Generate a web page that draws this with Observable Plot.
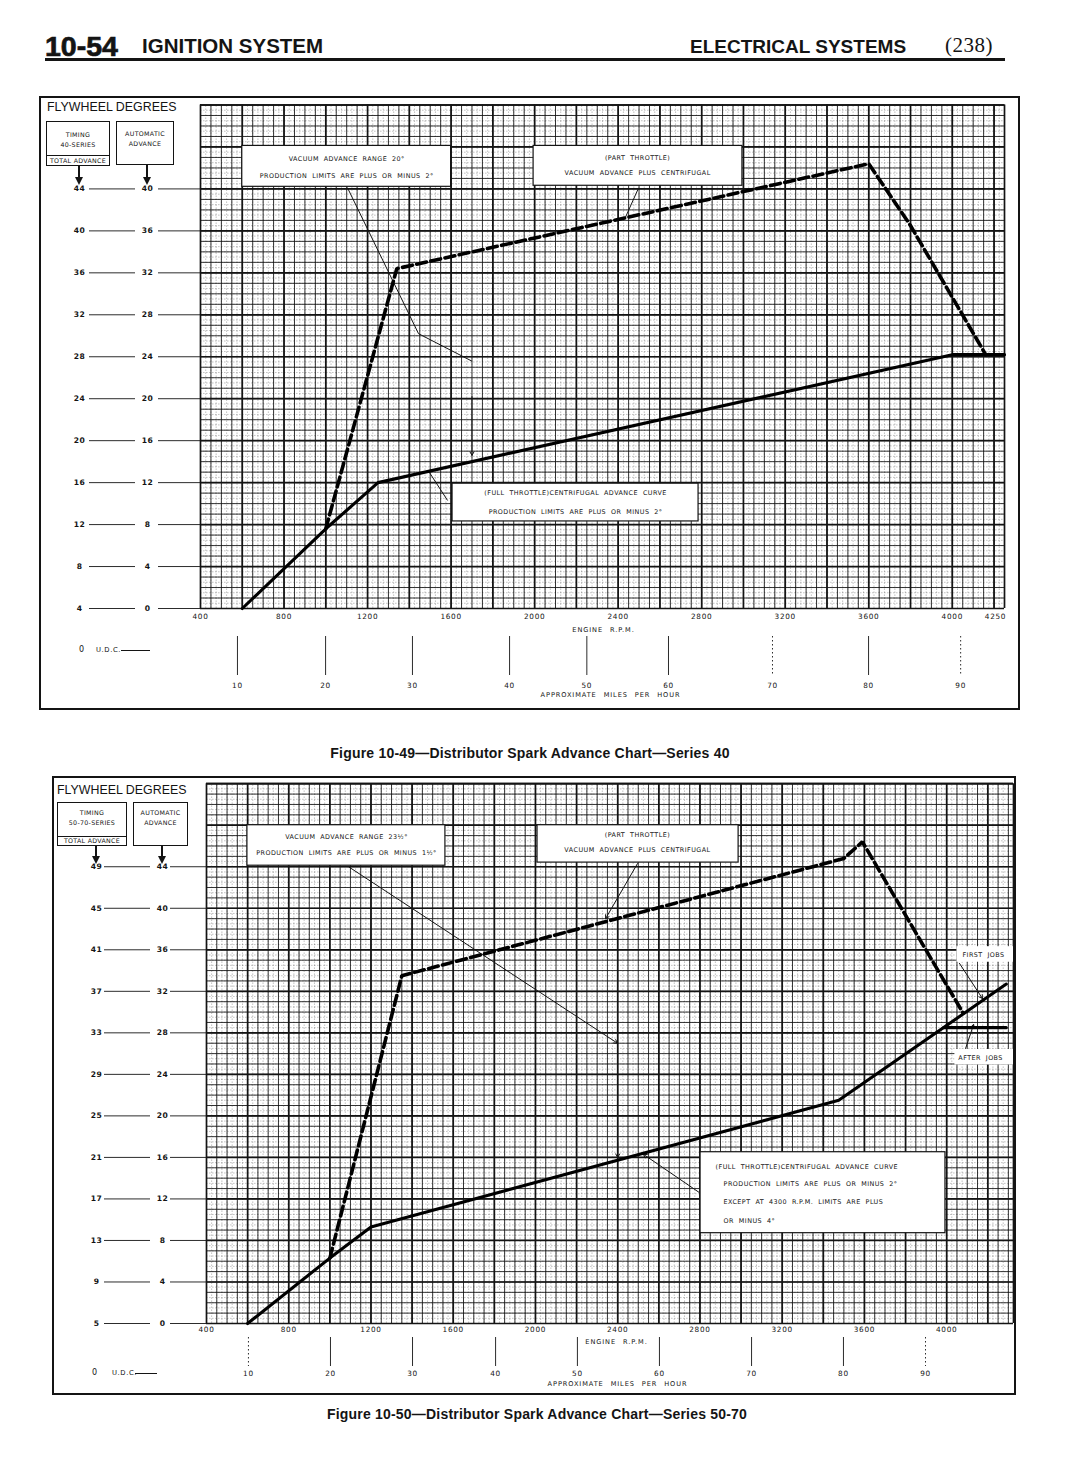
<!DOCTYPE html>
<html>
<head>
<meta charset="utf-8">
<title>10-54 Ignition System — Distributor Spark Advance Charts</title>
<script src="https://cdn.jsdelivr.net/npm/d3@7"></script>
<script src="https://cdn.jsdelivr.net/npm/@observablehq/plot@0.6"></script>
<style>
html,body{margin:0;padding:0;background:#fff;}
#page{position:relative;width:1074px;height:1484px;overflow:hidden;background:#fff;color:#141414;font-family:"Liberation Sans",Arial,sans-serif;}
.a{position:absolute;white-space:nowrap;line-height:1;}
.hd{font-weight:bold;}
.box{position:absolute;border:1.3px solid #141414;box-sizing:border-box;background:#fff;}
.small{position:absolute;left:0;right:0;text-align:center;line-height:1;white-space:nowrap;font-family:"DejaVu Sans",sans-serif;font-size:6.3px;letter-spacing:0.3px;}
.frame{position:absolute;border:2px solid #141414;box-sizing:border-box;pointer-events:none;}
.shaft{position:absolute;width:2px;background:#141414;}
.head{position:absolute;width:0;height:0;border-left:4px solid transparent;border-right:4px solid transparent;border-top:8px solid #141414;}
.caption{position:absolute;left:0;width:1074px;text-align:center;font-weight:bold;font-size:14px;line-height:1;white-space:nowrap;letter-spacing:0.2px;}
.chart{position:absolute;left:0;}
</style>
</head>
<body>
<div id="page"></div>
<script>
// ================= DATA =================
// Figure 10-49 — Series 40  (automatic advance, degrees, vs engine rpm)
const s40FullRpm   = [600, 1000, 1250, 4000, 4250];          // full throttle centrifugal curve
const s40Full      = [0, 7.6, 12.0, 24.2, 24.2];
const s40PartRpm   = [1000, 1340, 3600, 3800, 4160];          // part throttle (vacuum + centrifugal)
const s40Part      = [7.6, 32.4, 42.4, 36.5, 24.2];
const s40AutoTicks  = [40, 36, 32, 28, 24, 20, 16, 12, 8, 4, 0];
const s40TotalTicks = [44, 40, 36, 32, 28, 24, 20, 16, 12, 8, 4];
const s40RpmTicks   = [400, 800, 1200, 1600, 2000, 2400, 2800, 3200, 3600, 4000, 4250];
const s40Mph        = [10, 20, 30, 40, 50, 60, 70, 80, 90];
const s40MphRpm     = [577, 999, 1415, 1880, 2250, 2641, 3139, 3599, 4040];

// Figure 10-50 — Series 50-70
const s5070FullRpm  = [600, 1000, 1200, 3475, 4290];          // first jobs
const s5070Full     = [0, 6.3, 9.3, 21.5, 32.7];
const s5070AfterRpm = [3985, 4290];                           // after jobs
const s5070After    = [28.5, 28.5];
const s5070PartRpm  = [1000, 1350, 3500, 3590, 4080];
const s5070Part     = [6.3, 33.5, 44.8, 46.4, 29.9];
const s5070AutoTicks  = [44, 40, 36, 32, 28, 24, 20, 16, 12, 8, 4, 0];
const s5070TotalTicks = [49, 45, 41, 37, 33, 29, 25, 21, 17, 13, 9, 5];
const s5070RpmTicks   = [400, 800, 1200, 1600, 2000, 2400, 2800, 3200, 3600, 4000];
const s5070Mph        = [10, 20, 30, 40, 50, 60, 70, 80, 90];
const s5070MphRpm     = [604, 1003, 1402, 1806, 2204, 2603, 3051, 3498, 3897];

// ================= PAGE =================
const page = document.getElementById("page");
const ink = "#141414";

page.insertAdjacentHTML("beforeend", `
  <div class="a hd" style="left:45px;top:32px;font-size:28.5px;-webkit-text-stroke:0.7px #141414;">10-54</div>
  <div class="a hd" style="left:142px;top:36px;font-size:20.5px;">IGNITION SYSTEM</div>
  <div class="a hd" style="left:690px;top:37px;font-size:19px;">ELECTRICAL SYSTEMS</div>
  <div class="a" style="left:945px;top:35px;font-size:21px;font-family:'Liberation Serif',serif;letter-spacing:0.5px;">(238)</div>
  <div class="a" style="left:45px;top:58px;width:960px;height:2.5px;background:#141414;"></div>
`);

function sparkChart(c) {
  const X = d3.scaleLinear(c.xDomain, [c.left, c.right]);
  const Y = d3.scaleLinear(c.yDomain, [c.zeroY - c.top, c.gridTopY - c.top]);
  const atX = v => X.invert(v);          // layout helper: page px -> rpm
  const atY = v => Y.invert(v - c.top);  // layout helper: page px -> degrees
  const [x0, x1] = c.xDomain, [y0, y1] = c.yDomain;
  const seq = (a, b, s) => d3.range(a, b + 1e-6, s);
  const pts = (xs, ys) => xs.map((x, i) => ({rpm: x, adv: ys[i]}));
  const rows = c.auto.map((a, i) => ({auto: a, total: c.total[i]}));
  const mph = c.mph.map((m, i) => ({mph: m, rpm: c.mphRpm[i], dotted: c.mphDotted.includes(m)}));
  const gv = (v, o) => Plot.ruleX(v, {x: d => d, y1: y0, y2: y1, stroke: ink, ...o});
  const gh = (v, o) => Plot.ruleY(v, {y: d => d, x1: x0, x2: x1, stroke: ink, ...o});
  const sub = {strokeWidth: 0.5, strokeOpacity: 0.5, strokeDasharray: "1.6,1.4"};
  const minor = {strokeWidth: 0.85};
  const major = {strokeWidth: 1.7};
  const txt = {fill: ink, fontFamily: "DejaVu Sans, sans-serif"};
  const mainTicks = c.rpmTicks.slice(0, c.lastTickDx ? -1 : undefined);
  const endTicks = c.lastTickDx ? c.rpmTicks.slice(-1) : [];
  const marks = [
    gv(seq(x0, x1, 25), sub), gh(seq(y0, y1, 0.5), sub),
    gv(seq(x0, x1, 50), minor), gh(seq(y0, y1, 1), minor),
    gv([...seq(x0, x1, 200), x1], major), gh([...seq(y0, y1, 4), y1], major),
    Plot.rect(c.boxes, {x1: "x1", x2: "x2", y1: "y1", y2: "y2", fill: "#fff", stroke: ink, strokeWidth: 1.2}),
    Plot.rect(c.labelBg, {x1: "x1", x2: "x2", y1: "y1", y2: "y2", fill: "#fff"}),
    ...c.leaders.map(l => Plot.line(l, {x: "rpm", y: "adv", stroke: ink, strokeWidth: 1})),
    Plot.link(c.links, {x1: "x1", y1: "y1", x2: "x2", y2: "y2", stroke: ink, strokeWidth: 1}),
    Plot.arrow(c.arrows, {x1: "x1", y1: "y1", x2: "x2", y2: "y2", stroke: ink, strokeWidth: 1, headLength: 6}),
    ...c.solid.map(s => Plot.line(pts(s[0], s[1]), {x: "rpm", y: "adv", stroke: "#000", strokeWidth: 3.1, strokeLinejoin: "round"})),
    Plot.line(pts(c.partRpm, c.part), {x: "rpm", y: "adv", stroke: "#000", strokeWidth: 3.6, strokeDasharray: "10,4.5", strokeLinejoin: "miter"}),
    Plot.text(c.notes.filter(d => !d.start), {x: "rpm", y: "adv", text: "text", fontSize: 6.4, ...txt}),
    Plot.text(c.notes.filter(d => d.start), {x: "rpm", y: "adv", text: "text", textAnchor: "start", fontSize: 6.4, ...txt}),
    Plot.text(mainTicks, {x: d => d, y: () => y0, dy: c.tickDy, text: d => String(d), fontSize: 7.3, ...txt}),
    Plot.text(endTicks, {x: d => d, y: () => y0, dy: c.tickDy, dx: c.lastTickDx || 0, text: d => String(d), fontSize: 7.3, ...txt}),
    Plot.text(rows, {x: () => atX(c.totalX), y: "auto", text: d => String(d.total), fontSize: 7.6, fontWeight: "bold", ...txt}),
    Plot.text(rows, {x: () => atX(c.autoX), y: "auto", text: d => String(d.auto), fontSize: 7.6, fontWeight: "bold", ...txt}),
    Plot.ruleY(rows, {y: "auto", x1: () => atX(c.conn[0]), x2: () => atX(c.conn[1]), stroke: ink, strokeWidth: 0.9}),
    Plot.ruleY(rows, {y: "auto", x1: () => atX(c.conn[2]), x2: () => atX(c.conn[3]), stroke: ink, strokeWidth: 0.9}),
    Plot.ruleX(mph.filter(d => !d.dotted), {x: "rpm", y1: () => atY(c.mphTick[0]), y2: () => atY(c.mphTick[1]), stroke: ink, strokeWidth: 0.9}),
    Plot.ruleX(mph.filter(d => d.dotted), {x: "rpm", y1: () => atY(c.mphTick[0]), y2: () => atY(c.mphTick[1]), stroke: ink, strokeWidth: 0.9, strokeDasharray: "1.5,2.5"}),
    Plot.text(mph, {x: "rpm", y: () => atY(c.mphLabelY), text: d => String(d.mph), fontSize: 7.3, ...txt}),
    Plot.text(c.titles, {x: d => atX(d.x), y: d => atY(d.y), text: "text", fontSize: 6.6, ...txt})
  ];
  const svg = Plot.plot({
    width: 1074, height: c.height,
    marginLeft: 0, marginRight: 0, marginTop: 0, marginBottom: 0,
    x: {domain: c.xDomain, range: [c.left, c.right], axis: null},
    y: {domain: c.yDomain, range: [c.zeroY - c.top, c.gridTopY - c.top], axis: null},
    style: {background: "transparent", color: ink, overflow: "visible"},
    marks
  });
  const sel = d3.select(svg);
  sel.selectAll('g[font-size="6.4"]').attr("letter-spacing", 0.45).attr("word-spacing", 2.4);
  sel.selectAll('g[font-size="7.3"]').attr("letter-spacing", 0.7);
  sel.selectAll('g[font-size="6.6"]').attr("letter-spacing", 0.9).attr("word-spacing", 4);
  sel.selectAll('g[font-size="7.6"]').attr("letter-spacing", 0.4);
  const holder = document.createElement("div");
  holder.className = "chart";
  holder.style.top = c.top + "px";
  holder.appendChild(svg);
  page.appendChild(holder);
}

function legend(L) {
  const t = L.timing, u = L.autoBox;
  const sm = (y, top, s) => `<div class="small" style="top:${y - top - 4.3}px">${s}</div>`;
  let h = `<div class="a" style="left:${L.fly[0]}px;top:${L.fly[1] - 6}px;font-size:12.4px;">FLYWHEEL DEGREES</div>
  <div class="box" style="left:${t[0]}px;top:${t[1]}px;width:${t[2]}px;height:${t[3]}px;">
    ${sm(L.tl[0], t[1], "TIMING")}${sm(L.tl[1], t[1], L.series)}
    <div style="position:absolute;left:0;right:0;top:${t[4] - t[1] - 1.3}px;bottom:0;border-top:1.2px solid #141414;"></div>
    ${sm(L.tl[2], t[1], "TOTAL ADVANCE")}
  </div>
  <div class="box" style="left:${u[0]}px;top:${u[1]}px;width:${u[2]}px;height:${u[3]}px;">
    ${sm(L.al[0], u[1], "AUTOMATIC")}${sm(L.al[1], u[1], "ADVANCE")}
  </div>`;
  for (const [x, ya, yb] of L.arrows) {
    h += `<div class="shaft" style="left:${x - 1}px;top:${ya}px;height:${yb - ya - 7}px;"></div>
          <div class="head" style="left:${x - 4}px;top:${yb - 8}px;"></div>`;
  }
  const d = L.udc;
  h += `<div class="a" style="left:${d.zero - 3}px;top:${d.y - 4}px;font-size:8px;font-family:'DejaVu Sans',sans-serif;">0</div>
        <div class="a" style="left:${d.text}px;top:${d.y - 3.5}px;font-size:6.8px;letter-spacing:0.6px;font-family:'DejaVu Sans',sans-serif;">U.D.C.</div>
        <div class="a" style="left:${d.line[0]}px;top:${d.y}px;width:${d.line[1] - d.line[0]}px;height:1px;background:#141414;"></div>`;
  page.insertAdjacentHTML("beforeend", h);
}

// ---------- Figure 10-49 ----------
sparkChart({
  top: 90, height: 630,
  xDomain: [400, 4250], left: 200, right: 1004,
  yDomain: [0, 48], zeroY: 608, gridTopY: 104.5,
  solid: [[s40FullRpm, s40Full]],
  partRpm: s40PartRpm, part: s40Part,
  auto: s40AutoTicks, total: s40TotalTicks, totalX: 79, autoX: 147, conn: [89, 135, 158, 200],
  rpmTicks: s40RpmTicks, tickDy: 8, lastTickDx: -9,
  mph: s40Mph, mphRpm: s40MphRpm, mphDotted: [70, 90], mphTick: [636, 675], mphLabelY: 685,
  titles: [{x: 603, y: 629, text: "ENGINE R.P.M."}, {x: 610, y: 694, text: "APPROXIMATE MILES PER HOUR"}],
  boxes: [
    {x1: 600, x2: 1600, y1: 40.2, y2: 44.1},
    {x1: 1995, x2: 2995, y1: 40.3, y2: 44.1},
    {x1: 1607, x2: 2785, y1: 8.3, y2: 11.9}
  ],
  labelBg: [],
  notes: [
    {rpm: 1100, adv: 42.9, text: "VACUUM ADVANCE RANGE 20°"},
    {rpm: 1100, adv: 41.2, text: "PRODUCTION LIMITS ARE PLUS OR MINUS 2°"},
    {rpm: 2493, adv: 43.0, text: "(PART THROTTLE)"},
    {rpm: 2493, adv: 41.5, text: "VACUUM ADVANCE PLUS CENTRIFUGAL"},
    {rpm: 2196, adv: 11.0, text: "(FULL THROTTLE)CENTRIFUGAL ADVANCE CURVE"},
    {rpm: 2196, adv: 9.25, text: "PRODUCTION LIMITS ARE PLUS OR MINUS 2°"}
  ],
  leaders: [[{rpm: 1104, adv: 40.1}, {rpm: 1444, adv: 26.2}, {rpm: 1698, adv: 23.6}]],
  links: [{x1: 2498, y1: 40.1, x2: 2435, y2: 37.3}, {x1: 1492, y1: 13.1, x2: 1583, y2: 10.3}],
  arrows: [{x1: 1700, y1: 20.2, x2: 1700, y2: 14.6}]
});

// ---------- Figure 10-50 ----------
sparkChart({
  top: 776, height: 630,
  xDomain: [400, 4325], left: 206, right: 1013,
  yDomain: [0, 52], zeroY: 1323, gridTopY: 783.2,
  solid: [[s5070FullRpm, s5070Full], [s5070AfterRpm, s5070After]],
  partRpm: s5070PartRpm, part: s5070Part,
  auto: s5070AutoTicks, total: s5070TotalTicks, totalX: 96, autoX: 162, conn: [104, 150, 170, 206],
  rpmTicks: s5070RpmTicks, tickDy: 6, lastTickDx: 0,
  mph: s5070Mph, mphRpm: s5070MphRpm, mphDotted: [10, 90], mphTick: [1337, 1366], mphLabelY: 1373,
  titles: [{x: 616, y: 1341, text: "ENGINE R.P.M."}, {x: 617, y: 1383, text: "APPROXIMATE MILES PER HOUR"}],
  boxes: [
    {x1: 599, x2: 1562, y1: 44.1, y2: 48.0},
    {x1: 2010, x2: 2988, y1: 44.4, y2: 48.0},
    {x1: 2803, x2: 3994, y1: 8.7, y2: 16.5}
  ],
  labelBg: [
    {x1: 4050, x2: 4325, y1: 34.8, y2: 36.3},
    {x1: 4040, x2: 4325, y1: 24.9, y2: 26.4}
  ],
  notes: [
    {rpm: 1081, adv: 46.9, text: "VACUUM ADVANCE RANGE 23½°"},
    {rpm: 1081, adv: 45.3, text: "PRODUCTION LIMITS ARE PLUS OR MINUS 1½°"},
    {rpm: 2496, adv: 47.1, text: "(PART THROTTLE)"},
    {rpm: 2496, adv: 45.6, text: "VACUUM ADVANCE PLUS CENTRIFUGAL"},
    {rpm: 2876, adv: 15.1, text: "(FULL THROTTLE)CENTRIFUGAL ADVANCE CURVE", start: true},
    {rpm: 2915, adv: 13.4, text: "PRODUCTION LIMITS ARE PLUS OR MINUS 2°", start: true},
    {rpm: 2915, adv: 11.7, text: "EXCEPT AT 4300 R.P.M. LIMITS ARE PLUS", start: true},
    {rpm: 2915, adv: 9.9, text: "OR MINUS 4°", start: true},
    {rpm: 4179, adv: 35.5, text: "FIRST JOBS"},
    {rpm: 4165, adv: 25.6, text: "AFTER JOBS"}
  ],
  leaders: [],
  links: [],
  arrows: [
    {x1: 1091, y1: 44.0, x2: 2399, y2: 27.0},
    {x1: 2496, y1: 44.3, x2: 2341, y2: 39.0},
    {x1: 2798, y1: 12.6, x2: 2525, y2: 16.3},
    {x1: 2400, y1: 17.4, x2: 2400, y2: 16.0},
    {x1: 4062, y1: 34.7, x2: 4174, y2: 31.3},
    {x1: 4092, y1: 26.5, x2: 4131, y2: 28.8}
  ]
});

// ---------- legends, frames, captions ----------
legend({
  fly: [47, 107], series: "40-SERIES",
  timing: [46, 121, 64, 45, 155], tl: [135, 145, 161],
  autoBox: [116, 121, 58, 44], al: [134, 144],
  arrows: [[79, 166, 185], [147, 165, 185]],
  udc: {zero: 82, text: 96, line: [121, 150], y: 650}
});
legend({
  fly: [57, 790], series: "50-70-SERIES",
  timing: [57, 802, 70, 44, 836], tl: [813, 823, 841],
  autoBox: [133, 802, 55, 44], al: [813, 823],
  arrows: [[96, 846, 864], [162, 846, 864]],
  udc: {zero: 95, text: 112, line: [135, 157], y: 1373}
});

page.insertAdjacentHTML("beforeend", `
  <div class="frame" style="left:39px;top:96px;width:981px;height:614px;"></div>
  <div class="frame" style="left:52px;top:776px;width:964px;height:619px;"></div>
  <div class="caption" style="top:746px;transform:translateX(-7px);">Figure 10-49—Distributor Spark Advance Chart—Series 40</div>
  <div class="caption" style="top:1407px;">Figure 10-50—Distributor Spark Advance Chart—Series 50-70</div>
`);
</script>
</body>
</html>
